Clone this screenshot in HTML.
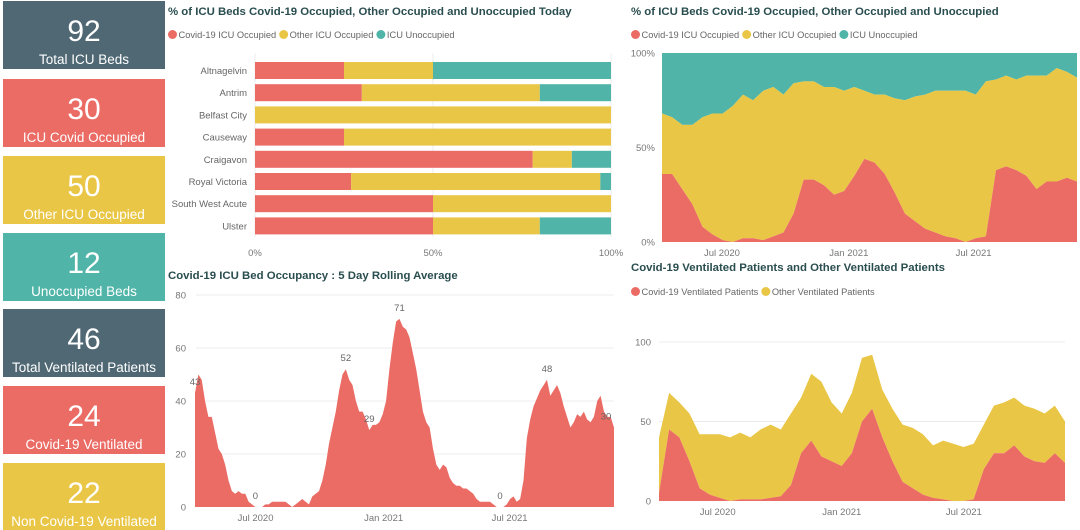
<!DOCTYPE html>
<html><head><meta charset="utf-8">
<style>
html,body{margin:0;padding:0;background:#fff;width:1080px;height:530px;overflow:hidden;font-family:"Liberation Sans",sans-serif}
svg text{font-family:"Liberation Sans",sans-serif}
</style></head>
<body>
<svg id="dash" width="1080" height="530" xmlns="http://www.w3.org/2000/svg"></svg>
<script>
// ---------- data ----------
const kpiValues=["92","30","50","12","46","24","22"];
const kpiLabels=["Total ICU Beds","ICU Covid Occupied","Other ICU Occupied","Unoccupied Beds","Total Ventilated Patients","Covid-19 Ventilated","Non Covid-19 Ventilated"];
const kpiColors=["#4f6874","#eb6b65","#e9c645","#50b5a8","#4f6874","#eb6b65","#e9c645"];

const hospitals=["Altnagelvin","Antrim","Belfast City","Causeway","Craigavon","Royal Victoria","South West Acute","Ulster"];
const hospCovid=[25,30,0,25,78,27,50,50];
const hospOther=[25,50,100,75,11,70,50,30];
const hospUnocc=[50,20,0,0,11,3,0,20];

const rollingStart="2020-04-05", rollingEnd="2021-11-28";
const rollingAvg=[43,50,48,40,34,34,28,22,20,16,10,6,5,6,5,5,2,1,0,0,0,1,1,2,2,2,2,2,1,0,1,2,3,2,1,4,5,6,10,16,24,30,36,44,50,52,48,46,40,36,36,33,29,31,31,32,35,40,52,62,70,71,68,67,64,58,52,44,36,32,30,22,16,14,16,15,11,9,8,8,7,7,6,5,3,2,2,2,2,1,0,0,0,1,3,4,2,3,10,26,33,38,41,44,46,48,42,44,46,43,38,34,30,32,35,34,36,33,32,34,40,42,36,34,34,30];
const rollingLabelIdx=[0,18,45,52,61,91,105,125];

const pctCovid=[36,36,28,20,8,4,1,0,2,2,1,3,5,15,33,33,30,25,27,35,44,42,36,26,15,11,7,5,3,2,0,2,3,38,40,38,35,28,32,32,34,32];
const pctOccupied=[68,66,62,62,66,68,68,72,78,75,80,82,78,84,85,85,82,82,80,82,80,78,78,76,75,77,78,80,80,80,80,78,85,86,88,86,88,88,88,92,90,87];

const ventCovid=[5,45,40,25,8,4,2,0,1,1,1,2,3,10,30,38,28,25,22,30,50,58,40,25,12,8,4,2,1,0,0,1,20,30,30,35,28,25,24,30,24];
const ventTotal=[40,68,62,55,42,42,42,40,43,40,45,48,45,55,65,80,75,62,55,68,90,92,70,58,48,46,42,35,38,36,34,36,48,60,62,65,60,58,55,60,50];

const dateTicks=["Jul 2020","Jan 2021","Jul 2021"];
const dateTickVals=["2020-07-01","2021-01-01","2021-07-01"];

// ---------- helpers ----------
const NS="http://www.w3.org/2000/svg";
const svg=document.getElementById('dash');
function el(tag,attrs,parent,txt){const e=document.createElementNS(NS,tag);for(const k in attrs)e.setAttribute(k,attrs[k]);if(txt!==undefined)e.textContent=txt;(parent||svg).appendChild(e);return e;}
const RED="#eb6b65",YEL="#e9c645",TEAL="#50b5a8",TITLE="#2a4d4f",AX="#777",GRID="#ececec";
const day=s=>new Date(s+"T00:00:00Z").getTime()/864e5;

// ---------- KPI cards ----------
const cardTops=[1,79,156,233,309,386,463];
kpiValues.forEach((v,i)=>{
  const g=el('g',{});
  
  
  el('rect',{x:3,y:cardTops[i],width:162,height:68,fill:kpiColors[i]},g);
  const n=el('text',{x:84,y:cardTops[i]+40,'text-anchor':'middle',fill:'#fff','font-size':30},g,v);
  
  const l=el('text',{x:84,y:cardTops[i]+63,'text-anchor':'middle',fill:'#fff','font-size':13.5},g,kpiLabels[i]);
  
});

function title(x,y,t,name){const e=el('text',{x,y,fill:TITLE,'font-size':11.4,'font-weight':'bold'},svg,t);}
function legend(x,y,items,name){const g=el('g',{});let cx=x;items.forEach(([c,t])=>{const it=el('g',{},g);el('circle',{cx:cx+4.5,cy:y-3.5,r:4.5,fill:c},it);const tx=el('text',{x:cx+10.5,y,fill:'#666','font-size':9.3},it,t);cx+=10.5+tx.getComputedTextLength()+3;});}

// ---------- chart 1: hospital bars ----------
title(168,15,"% of ICU Beds Covid-19 Occupied, Other Occupied and Unoccupied Today","bar-chart-title");
legend(168,38,[[RED,"Covid-19 ICU Occupied"],[YEL,"Other ICU Occupied"],[TEAL,"ICU Unoccupied"]],"bar-chart-legend");
(function(){
  const x0=255,x1=611,xs=v=>x0+(x1-x0)*v/100, yTop=62, rowH=22.2, bh=17;
  [0,50,100].forEach(t=>{el('line',{x1:xs(t),x2:xs(t),y1:53,y2:237,stroke:GRID});const e=el('text',{x:xs(t),y:256,'text-anchor':'middle',fill:AX,'font-size':9.5},svg,t+'%');});
  hospitals.forEach((h,i)=>{
    const y=yTop+i*rowH;
    const lab=el('text',{x:247,y:y+bh/2+3.5,'text-anchor':'end',fill:'#666','font-size':9.5},svg,h);
    
    let acc=0;
    [[hospCovid[i],RED,'covid'],[hospOther[i],YEL,'other'],[hospUnocc[i],TEAL,'unoccupied']].forEach(([v,c,n])=>{
      if(v>0){const r=el('rect',{x:xs(acc),y,width:xs(acc+v)-xs(acc),height:bh,fill:c});
      }
      acc+=v;});
  });
})();

// ---------- generic time area ----------
function timeScale(x0,x1){const d0=day(rollingStart),d1=day(rollingEnd);return d=>x0+(x1-x0)*(d-d0)/(d1-d0);}
function areaPath(xsArr,top,bot){let p='M'+xsArr[0]+','+bot[0];xsArr.forEach((x,i)=>p+='L'+x+','+top[i]);for(let i=xsArr.length-1;i>=0;i--)p+='L'+xsArr[i]+','+bot[i];return p+'Z';}
function dateAxis(x0,x1,y){const xt=timeScale(x0,x1);dateTickVals.forEach((d,i)=>{const e=el('text',{x:xt(day(d)),y,'text-anchor':'middle',fill:AX,'font-size':9.5},svg,dateTicks[i]);});}

// ---------- chart 2: rolling average ----------
title(168,279,"Covid-19 ICU Bed Occupancy : 5 Day Rolling Average","rolling-chart-title");
(function(){
  const x0=195,x1=614,yb=507,yt=295,ys=v=>yb-(yb-yt)*v/80;
  [0,20,40,60,80].forEach(t=>{if(t>0)el('line',{x1:196,x2:614,y1:ys(t),y2:ys(t),stroke:GRID});const e=el('text',{x:186,y:ys(t)+3.5,'text-anchor':'end',fill:AX,'font-size':9.5},svg,t);});
  const n=rollingAvg.length, xs=i=>x0+(x1-x0)*i/(n-1);
  const X=rollingAvg.map((_,i)=>xs(i));
  const p=el('path',{d:areaPath(X,rollingAvg.map(ys),rollingAvg.map(()=>yb)),fill:RED});
  
  rollingLabelIdx.forEach(i=>{const e=el('text',{x:Math.min(xs(i),606),y:ys(rollingAvg[i])-8,'text-anchor':'middle',fill:'#666','font-size':9.5},svg,rollingAvg[i]);});
  dateAxis(x0,x1,521);
})();

// ---------- chart 3: stacked 100% ----------
title(631,15,"% of ICU Beds Covid-19 Occupied, Other Occupied and Unoccupied","pct-chart-title");
legend(631,38,[[RED,"Covid-19 ICU Occupied"],[YEL,"Other ICU Occupied"],[TEAL,"ICU Unoccupied"]],"pct-chart-legend");
(function(){
  const x0=662,x1=1077,yb=242,yt=53,ys=v=>yb-(yb-yt)*v/100;
  [0,50,100].forEach(t=>{const e=el('text',{x:655,y:ys(t)+3.5,'text-anchor':'end',fill:AX,'font-size':9.5},svg,t+'%');});
  const n=pctCovid.length,X=pctCovid.map((_,i)=>x0+(x1-x0)*i/(n-1));
  const a=el('path',{d:areaPath(X,pctCovid.map(()=>yt),pctOccupied.map(ys)),fill:TEAL});
  const b=el('path',{d:areaPath(X,pctOccupied.map(ys),pctCovid.map(ys)),fill:YEL});
  const c=el('path',{d:areaPath(X,pctCovid.map(ys),pctCovid.map(()=>yb)),fill:RED});
  dateAxis(x0,x1,256);
})();

// ---------- chart 4: ventilated ----------
title(631,271,"Covid-19 Ventilated Patients and Other Ventilated Patients","ventilated-chart-title");
legend(631,295,[[RED,"Covid-19 Ventilated Patients"],[YEL,"Other Ventilated Patients"]],"ventilated-chart-legend");
(function(){
  const x0=659,x1=1065,yb=501,yt=342,ys=v=>yb-(yb-yt)*v/100;
  [0,50,100].forEach(t=>{if(t>0)el('line',{x1:659,x2:1065,y1:ys(t),y2:ys(t),stroke:GRID});const e=el('text',{x:651,y:ys(t)+3.5,'text-anchor':'end',fill:AX,'font-size':9.5},svg,t);});
  const n=ventCovid.length,X=ventCovid.map((_,i)=>x0+(x1-x0)*i/(n-1));
  const b=el('path',{d:areaPath(X,ventTotal.map(ys),ventCovid.map(ys)),fill:YEL});
  const c=el('path',{d:areaPath(X,ventCovid.map(ys),ventCovid.map(()=>yb)),fill:RED});
  dateAxis(x0,x1,515);
})();
</script>
</body></html>
